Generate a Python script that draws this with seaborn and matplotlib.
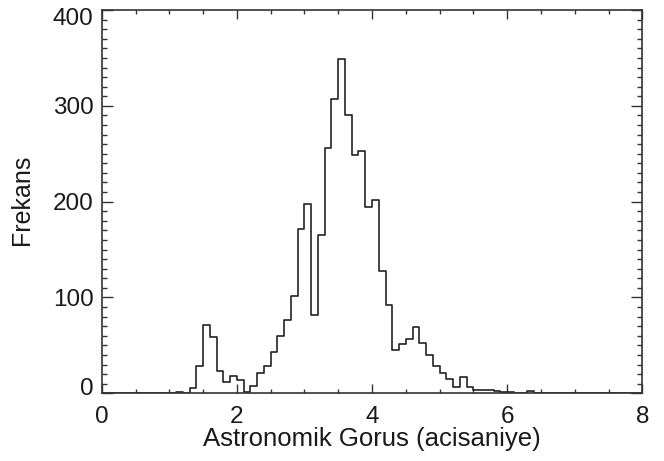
import numpy as np
import pandas as pd
import matplotlib
matplotlib.use('Agg')
import matplotlib.pyplot as plt
import matplotlib.transforms as mtransforms
import seaborn as sns
from matplotlib.ticker import MultipleLocator

# bin left edges (0.1 wide) and counts
bin_left = [round(0.1 * i, 1) for i in range(80)]
counts = [0] * 80
nonzero = {
    1.1: 1, 1.3: 6, 1.4: 29, 1.5: 71, 1.6: 59, 1.7: 23, 1.8: 12, 1.9: 18,
    2.0: 14, 2.1: 1, 2.2: 8, 2.3: 21, 2.4: 28, 2.5: 43, 2.6: 60, 2.7: 76,
    2.8: 102, 2.9: 171, 3.0: 198, 3.1: 82, 3.2: 165, 3.3: 256, 3.4: 307,
    3.5: 349, 3.6: 290, 3.7: 249, 3.8: 253, 3.9: 194, 4.0: 202, 4.1: 128,
    4.2: 92, 4.3: 45, 4.4: 51, 4.5: 57, 4.6: 69, 4.7: 53, 4.8: 40, 4.9: 29,
    5.0: 21, 5.1: 15, 5.2: 7, 5.3: 17, 5.4: 7, 5.5: 3, 5.6: 3, 5.7: 3,
    5.8: 2, 5.9: 1, 6.0: 1, 6.3: 2,
}
for k, v in nonzero.items():
    counts[bin_left.index(k)] = v

x_label = 'Astronomik Gorus (acisaniye)'
y_label = 'Frekans'

df = pd.DataFrame({'center': np.array(bin_left) + 0.05, 'count': counts})

sns.set_style('ticks')
plt.rcParams['font.family'] = ['Liberation Sans', 'DejaVu Sans']
plt.rcParams['xtick.direction'] = 'in'
plt.rcParams['ytick.direction'] = 'in'

fs = 17.5
fig = plt.figure(figsize=(6.64, 4.61), dpi=100)
ax = fig.add_axes([0.1532, 0.1468, 0.8141, 0.8315])

sns.histplot(data=df, x='center', weights='count', binwidth=0.1, binrange=(0, 8),
             element='step', fill=False, color='#222222', linewidth=1.2, ax=ax)

ax.set_xlim(0, 8)
ax.set_ylim(0, 400)
ax.xaxis.set_major_locator(MultipleLocator(2))
ax.xaxis.set_minor_locator(MultipleLocator(0.5))
ax.yaxis.set_major_locator(MultipleLocator(100))
ax.yaxis.set_minor_locator(MultipleLocator(10))
ax.tick_params(which='both', top=True, right=True, labeltop=False, labelright=False,
               colors='#333333', labelcolor='#1a1a1a', labelsize=fs)
ax.tick_params(axis='x', which='major', length=6.5, width=1, pad=9)
ax.tick_params(axis='x', which='minor', length=3.2, width=1)
ax.tick_params(axis='y', which='major', length=8, width=1, pad=6)
ax.tick_params(axis='y', which='minor', length=3.6, width=1)
for s in ax.spines.values():
    s.set_color('#333333')
    s.set_linewidth(1.2)

ax.set_xlabel(x_label, fontsize=18.5, color='#1a1a1a')
ax.set_ylabel(y_label, fontsize=18, color='#1a1a1a')
ax.xaxis.set_label_coords(0.5, -0.088)
ax.yaxis.set_label_coords(-0.125, 0.504)

# IDL-style: end labels pulled inside the axis range
fig.canvas.draw()
ylabs = ax.get_yticklabels()
for lab in ylabs:
    if lab.get_text() == '0':
        lab.set_transform(lab.get_transform() + mtransforms.ScaledTranslation(0, 7 / 100, fig.dpi_scale_trans))
    elif lab.get_text() == '400':
        lab.set_transform(lab.get_transform() + mtransforms.ScaledTranslation(0, -6 / 100, fig.dpi_scale_trans))

fig.savefig('out.png', dpi=100)
